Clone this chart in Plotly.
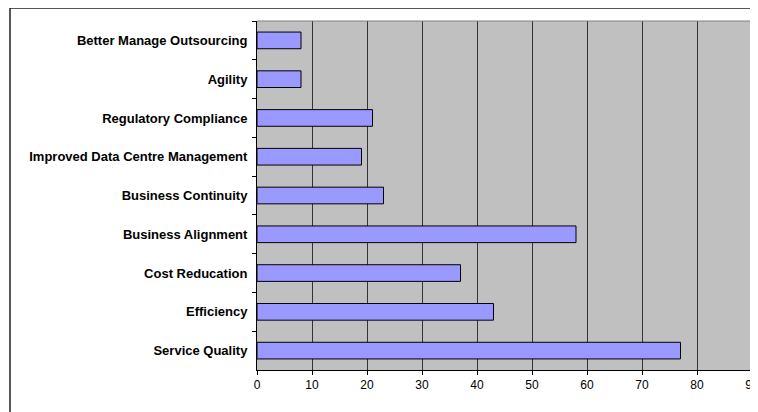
import plotly.graph_objects as go

categories = [
    "Better Manage Outsourcing",
    "Agility",
    "Regulatory Compliance",
    "Improved Data Centre Management",
    "Business Continuity",
    "Business Alignment",
    "Cost Reducation",
    "Efficiency",
    "Service Quality",
]
values = [8, 8, 21, 19, 23, 58, 37, 43, 77]
x_ticks = [0, 10, 20, 30, 40, 50, 60, 70, 80, 90]

# page has an 8px body margin, so the figure is offset by 8px
OFF = 8
W, H = 758 - OFF, 412 - OFF
ml, mr, mt, mb = 257 - OFF, 6, 21 - OFF, 42
pw, ph = W - ml - mr, H - mt - mb

fig = go.Figure(go.Bar(
    y=categories, x=values, orientation="h",
    marker=dict(color="#9999FF", line=dict(color="black", width=1)),
    width=0.43,
))

def px_x(p):
    return (p - OFF - ml) / pw

def px_y(p):
    return 1 - (p - OFF - mt) / ph

fig.update_layout(
    template="none",
    width=W, height=H,
    margin=dict(l=ml, r=mr, t=mt, b=mb, pad=0),
    paper_bgcolor="white",
    plot_bgcolor="#C0C0C0",
    showlegend=False,
    font=dict(family="Liberation Sans", color="black"),
    xaxis=dict(
        range=[0, 90], tickvals=x_ticks, ticktext=[str(v) for v in x_ticks],
        showgrid=True, gridcolor="#333333", gridwidth=1,
        zeroline=False, showline=True, linecolor="black", linewidth=1,
        ticks="outside", ticklen=4, tickcolor="black",
        ticklabeloverflow="allow",
        tickfont=dict(family="Liberation Sans", size=12, color="black"),
        fixedrange=True,
    ),
    yaxis=dict(
        autorange="reversed", type="category",
        showgrid=False, zeroline=False, showline=True, linecolor="black", linewidth=1,
        ticks="outside", ticklen=4, tickcolor="black", tickson="boundaries",
        ticklabelstandoff=6,
        tickfont=dict(family="Liberation Sans", size=13, color="black", weight="bold"),
        fixedrange=True,
    ),
    shapes=[
        dict(type="line", xref="paper", yref="paper", x0=0, x1=1, y0=1, y1=1,
             line=dict(color="#808080", width=1)),
        dict(type="line", xref="paper", yref="paper", x0=1, x1=1, y0=0, y1=1,
             line=dict(color="#808080", width=1)),
        dict(type="rect", xref="paper", yref="paper",
             x0=px_x(10), x1=px_x(W + 20), y0=px_y(H + 20), y1=px_y(8),
             line=dict(color="#222222", width=1.5)),
    ],
)

fig.write_html("out.html")
